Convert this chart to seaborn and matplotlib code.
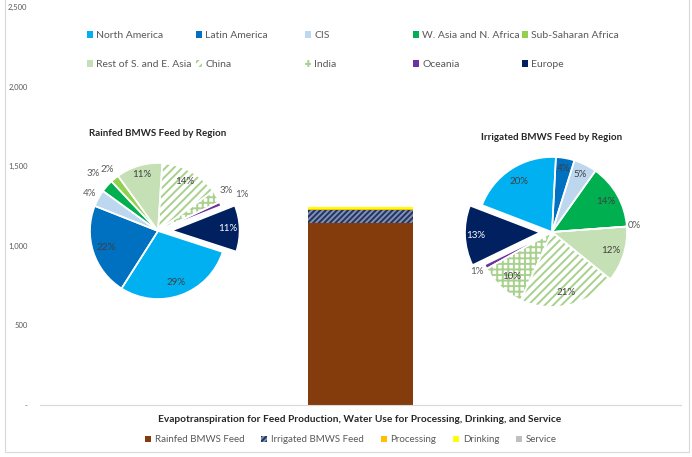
import matplotlib
matplotlib.use("Agg")
import matplotlib.pyplot as plt
import seaborn as sns
import numpy as np
from matplotlib.patches import Patch, Rectangle

# ---------------- data ----------------
regions = ["North America", "Latin America", "CIS", "W. Asia and N. Africa",
           "Sub-Saharan Africa", "Rest of S. and E. Asia", "China", "India",
           "Oceania", "Europe"]
rainfed_pct = [29, 22, 4, 3, 2, 11, 14, 3, 1, 11]
irrigated_pct = [20, 4, 5, 14, 0, 12, 21, 10, 1, 13]

components = ["Rainfed BMWS Feed", "Irrigated BMWS Feed", "Processing",
              "Drinking", "Service"]
component_values = [1141, 84, 4, 13, 1]
bar_category = [""]

y_ticks = [0, 500, 1000, 1500, 2000, 2500]
y_tick_labels = ["-", "500", "1,000", "1,500", "2,000", "2,500"]

# ---------------- style ----------------
sns.set_style("white")
plt.rcParams["font.family"] = ["Lato", "DejaVu Sans"]
plt.rcParams["hatch.linewidth"] = 1.4

W, H = 692, 457
fig = plt.figure(figsize=(W / 100, H / 100), dpi=100)

def px_axes(x0, y0, w, h):
    """axes from pixel box (top-left origin)"""
    return fig.add_axes([x0 / W, 1 - (y0 + h) / H, w / W, h / H])

GRAY = "#595959"
region_colors = ["#00B0F0", "#0070C0", "#BDD7EE", "#00B050", "#92D050",
                 "#C5E0B4", "white", "white", "#7030A0", "#002060"]
hatch_green = "#A9D18E"
region_hatch = [None, None, None, None, None, None, "////", "+++", None, None]
comp_colors = ["#843C0C", "#233461", "#FFC000", "#FFFF00", "#BFBFBF"]

# chart frame
fig.patches.append(Rectangle((5 / W, 5 / H), 684 / W, 1.0, transform=fig.transFigure,
                             fill=False, edgecolor="#D9D9D9", linewidth=0.8))

# ---------------- stacked bar ----------------
ax = px_axes(40, 7, 641, 398)
cum = np.cumsum(component_values)
for i in reversed(range(len(components))):
    kw = dict(color=comp_colors[i], saturation=1, width=0.165, errorbar=None,
              ax=ax, linewidth=0)
    if i == 1:
        kw.update(hatch="//////", edgecolor="#8290B4")
    sns.barplot(x=bar_category, y=[cum[i]], **kw)
ax.set_ylim(0, 2500)
ax.set_xlim(-0.5, 0.5)
ax.set_yticks(y_ticks)
ax.set_yticklabels(y_tick_labels, fontsize=5.5, color=GRAY)
ax.tick_params(axis="y", length=0, pad=9)
ax.set_xticks([])
ax.set_xlabel("")
ax.set_ylabel("")
for s in ["left", "top", "right"]:
    ax.spines[s].set_visible(False)
ax.spines["bottom"].set_color("#D9D9D9")
ax.spines["bottom"].set_linewidth(0.8)

fig.text(360 / W, 1 - 419 / H, "Evapotranspiration for Feed Production, Water Use for Processing, Drinking, and Service",
         ha="center", va="center", fontsize=7.3, fontweight="bold", color="#262626")

bar_handles = []
for i, c in enumerate(components):
    if i == 1:
        bar_handles.append(Patch(facecolor=comp_colors[i], edgecolor="#8290B4", hatch="//////", linewidth=0, label=c))
    else:
        bar_handles.append(Patch(facecolor=comp_colors[i], linewidth=0, label=c))
fig.legend(handles=bar_handles, loc="center", bbox_to_anchor=(351 / W, 1 - 440 / H),
           ncol=5, frameon=False, fontsize=7, labelcolor=GRAY, handlelength=0.6,
           handleheight=0.6, handletextpad=0.4, columnspacing=1.75)

# ---------------- pies ----------------
def draw_pie(cx, cy, r, values, startangle, explode_amt, label_r, title, title_y):
    lim = 1.6
    s = 2 * lim * r
    pax = px_axes(cx - s / 2, cy - s / 2, s, s)
    explode = [explode_amt if reg == "Europe" else 0 for reg in regions]
    wedges, _ = pax.pie(values, colors=region_colors, startangle=startangle,
                        counterclock=False, explode=explode,
                        wedgeprops=dict(linewidth=0))
    for w, h in zip(wedges, region_hatch):
        if h:
            w.set_hatch(h)
            w.set_edgecolor(hatch_green)
    # white separators
    pax.pie(values, colors=["none"] * len(values), startangle=startangle,
            counterclock=False, explode=explode,
            wedgeprops=dict(linewidth=1.2, edgecolor="white"))
    for w, v, lr, reg in zip(wedges, values, label_r, regions):
        ang = np.deg2rad((w.theta1 + w.theta2) / 2)
        cxw, cyw = w.center
        x = cxw + lr * np.cos(ang)
        y = cyw + lr * np.sin(ang)
        if reg == "Europe":
            col = "white"
        elif lr > 1:
            col = GRAY
        else:
            col = "#404040"
        pax.text(x, y, f"{v}%", ha="center", va="center", fontsize=7, color=col)
    pax.set_xlim(-lim, lim)
    pax.set_ylim(-lim, lim)
    pax.set_aspect("equal")
    pax.axis("off")
    fig.text(cx / W, 1 - title_y / H, title, ha="center", va="center",
             fontsize=7, fontweight="bold", color="#262626")
    return pax

rain_label_r = [0.8, 0.8, 1.15, 1.28, 1.18, 0.86, 0.83, 1.17, 1.35, 0.82]
irr_label_r = [0.81, 0.86, 0.85, 0.82, 1.1, 0.82, 0.83, 0.8, 1.13, 0.86]

pl = draw_pie(158, 231, 68, rainfed_pct, -18, 0.2, rain_label_r,
              "Rainfed BMWS Feed by Region", 134)
pr = draw_pie(552, 232, 75, irrigated_pct, 159, 0.16, irr_label_r,
              "Irrigated BMWS Feed by Region", 138)

# ---------------- region legend (5 columns x 2 rows) ----------------
region_handles = []
for reg, c, h in zip(regions, region_colors, region_hatch):
    if h:
        region_handles.append(Patch(facecolor="white", edgecolor=hatch_green, hatch=h, linewidth=0, label=reg))
    else:
        region_handles.append(Patch(facecolor=c, linewidth=0, label=reg))
col_x = [87, 196, 305, 413, 522]
for i, x0 in enumerate(col_x):
    leg = fig.legend(handles=[region_handles[i], region_handles[i + 5]],
                     loc="upper left", bbox_to_anchor=(x0 / W, 1 - 31 / H),
                     frameon=False, fontsize=7.5, labelcolor=GRAY, ncol=1,
                     handlelength=0.6, handleheight=0.6, handletextpad=0.3,
                     labelspacing=1.95, borderpad=0, borderaxespad=0)

fig.savefig("out.png", dpi=100)
